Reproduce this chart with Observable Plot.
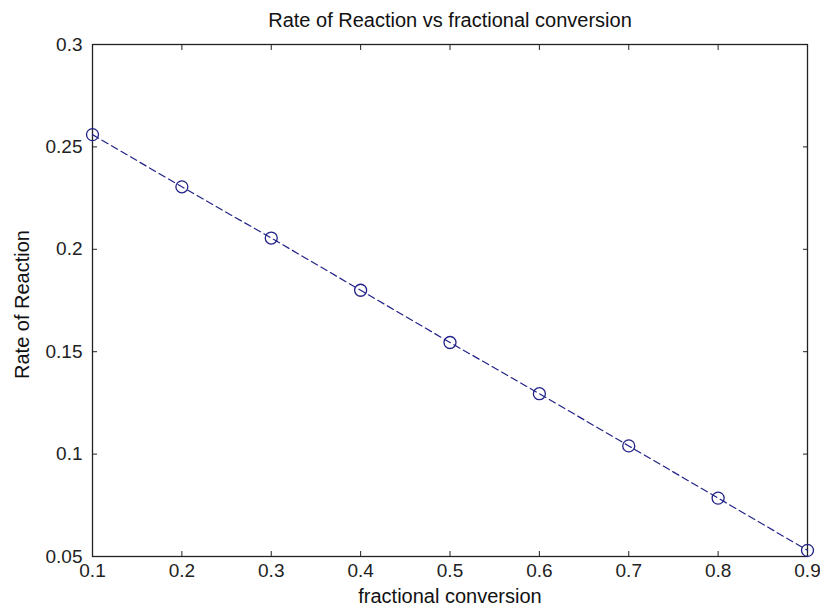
<!DOCTYPE html>
<html>
<head>
<meta charset="utf-8">
<script src="https://cdn.jsdelivr.net/npm/d3@7"></script>
<script src="https://cdn.jsdelivr.net/npm/@observablehq/plot@0.6"></script>
<style>
  html, body { margin: 0; padding: 0; background: #fff; }
  #chart svg { display: block; }
</style>
</head>
<body>
<div id="chart"></div>
<script>
const conversion = [0.1, 0.2, 0.3, 0.4, 0.5, 0.6, 0.7, 0.8, 0.9];
const rate = [0.256, 0.2305, 0.2055, 0.18, 0.1545, 0.1295, 0.104, 0.0785, 0.053];
const xTicks = [0.1, 0.2, 0.3, 0.4, 0.5, 0.6, 0.7, 0.8, 0.9];
const yTicks = [0.05, 0.1, 0.15, 0.2, 0.25, 0.3];
const titleText = "Rate of Reaction vs fractional conversion";
const xLabel = "fractional conversion";
const yLabel = "Rate of Reaction";

const data = conversion.map((x, i) => ({x, y: rate[i]}));
const navy = "#222288";
const axisColor = "#222";
const font = "Liberation Sans, Arial, sans-serif";
const fmt = d => String(+d.toFixed(2));

const chart = Plot.plot({
  width: 820,
  height: 607,
  marginLeft: 92,
  marginRight: 13,
  marginTop: 44,
  marginBottom: 51,
  style: {fontFamily: font, fontSize: "19px", color: axisColor, background: "#fff"},
  x: {domain: [0.1, 0.9], label: null},
  y: {domain: [0.05, 0.3], label: null},
  marks: [
    Plot.frame({stroke: axisColor, strokeWidth: 1.3}),
    Plot.axisX(xTicks, {anchor: "bottom", tickSize: -5, tickPadding: 12, tickFormat: fmt, label: null, stroke: axisColor, fill: axisColor, fontSize: 19}),
    Plot.axisX(xTicks, {anchor: "top", tickSize: -5, tickFormat: () => "", label: null, stroke: axisColor}),
    Plot.axisY(yTicks, {anchor: "left", tickSize: -5, tickPadding: 15, tickFormat: fmt, label: null, stroke: axisColor, fill: axisColor, fontSize: 19}),
    Plot.axisY(yTicks, {anchor: "right", tickSize: -5, tickFormat: () => "", label: null, stroke: axisColor}),
    Plot.line(data, {x: "x", y: "y", stroke: navy, strokeWidth: 1.2, strokeDasharray: "7,4"}),
    Plot.dot(data, {x: "x", y: "y", r: 6, stroke: navy, strokeWidth: 1.3, fill: "none"}),
    Plot.text([titleText], {frameAnchor: "top", lineAnchor: "middle", textAnchor: "middle", dy: -24, fontSize: 20, fill: "#111", text: d => d}),
    Plot.text([xLabel], {frameAnchor: "bottom", lineAnchor: "bottom", textAnchor: "middle", dy: 46, fontSize: 20, fill: "#111", text: d => d}),
    Plot.text([yLabel], {frameAnchor: "left", lineAnchor: "middle", textAnchor: "middle", dx: -70, dy: 4, rotate: -90, fontSize: 20, fill: "#111", text: d => d})
  ]
});
document.getElementById("chart").appendChild(chart);
</script>
</body>
</html>
